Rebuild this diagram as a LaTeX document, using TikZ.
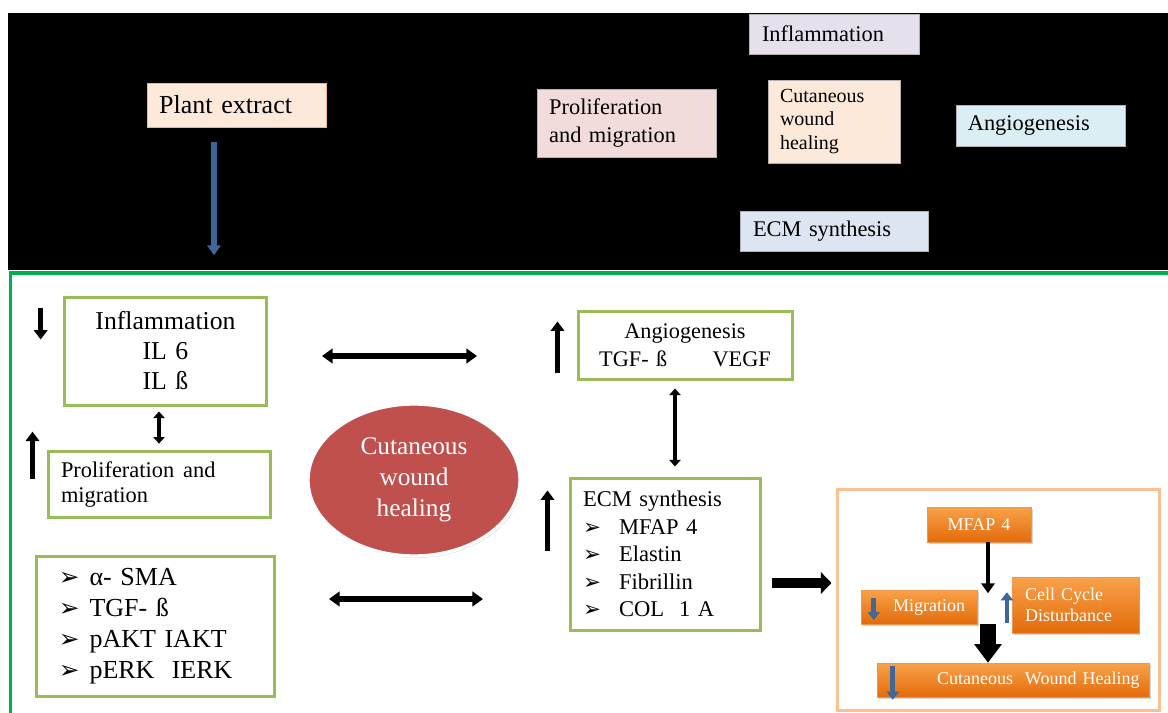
\documentclass[tikz,border=0pt]{standalone}
\usepackage{fontspec}
\setmainfont{Liberation Serif}
\newfontfamily\dingfont[Scale=0.95]{DejaVu Sans}
\usetikzlibrary{arrows.meta,calc,shapes.geometric,shadows}

\definecolor{peach}{HTML}{FDE9D9}
\definecolor{peachline}{HTML}{F4B183}
\definecolor{lavender}{HTML}{E6E0EC}
\definecolor{rose}{HTML}{F2DCDB}
\definecolor{skyblue}{HTML}{DBEEF4}
\definecolor{paleblue}{HTML}{DCE6F2}
\definecolor{leaf}{HTML}{9BBB59}
\definecolor{framegreen}{HTML}{00B050}
\definecolor{woundred}{HTML}{C0504D}
\definecolor{orangetop}{HTML}{F9A24A}
\definecolor{orangebottom}{HTML}{E26B0A}
\definecolor{orangeline}{HTML}{FAC090}
\definecolor{steel}{HTML}{3F6797}

\newcommand{\listarrow}[1]{\makebox[#1][l]{\dingfont ➢}}

\tikzset{
    top box/.style = {
        draw = gray!60,
        thin,
        inner ysep = 0pt,
        align = left,
        font = \fontsize{16.8}{20.4}\selectfont,
        },
    leaf box/.style = {
        draw = leaf,
        line width = 2.25pt,
        inner ysep = 0pt,
        },
    orange box/.style = {
        top color = orangetop,
        bottom color = orangebottom,
        draw = orangebottom!70,
        text = white,
        inner sep = 0pt,
        align = left,
        drop shadow = {opacity=0.35, shadow xshift=1.2pt, shadow yshift=-1.2pt},
        font = \fontsize{13.5}{16}\selectfont,
        },
    trend/.style = {
        line width = 3.5pt,
        -{Triangle[length=7pt,width=10pt]},
        },
    blue trend/.style = {
        draw = steel,
        line width = 3.5pt,
        -{Triangle[length=6pt,width=9pt]},
        },
    both way/.style = {
        line width = 4.5pt,
        {Triangle[length=8pt,width=11pt]}-{Triangle[length=8pt,width=11pt]},
        },
    both way small/.style = {
        line width = 3.5pt,
        {Triangle[length=5pt,width=8.5pt]}-{Triangle[length=5pt,width=8.5pt]},
        },
    fat arrow/.style = {
        line width = 7.5pt,
        -{Triangle[length=8pt,width=16pt]},
        },
    big arrow/.style = {
        line width = 12pt,
        -{Triangle[length=14pt,width=20pt]},
        },
    thin arrow/.style = {
        line width = 2.5pt,
        -{Triangle[length=7.5pt,width=10pt]},
        },
}

\begin{document}
\begin{tikzpicture}[x=0.75pt,y=-0.75pt]
    \useasboundingbox (0,0) rectangle (1168,713);

    % upper panel
    \fill[black] (8,13) rectangle (1168,270);
    \node[top box, fill=peach, draw=peachline, minimum height=33pt, text width=116pt, inner xsep=9pt,
          font=\fontsize{19.5}{23}\selectfont] (plant) at (236.5,105) {Plant extract};
    \node[top box, fill=lavender, minimum height=30pt, text width=108pt, inner xsep=9.75pt] (tinfl) at (834,34) {Inflammation};
    \node[top box, fill=rose, minimum height=51pt, text width=116pt, inner xsep=9pt] (tprolif) at (626.5,123) {Proliferation\\and migration};
    \node[top box, fill=peach, minimum height=62pt, text width=81pt, inner xsep=9pt,
          font=\fontsize{15}{17.6}\selectfont] (theal) at (834,121.5) {Cutaneous\\wound\\healing};
    \node[top box, fill=skyblue, minimum height=31pt, text width=109pt, inner xsep=9pt] (tangio) at (1040.5,125.5) {Angiogenesis};
    \node[top box, fill=paleblue, minimum height=30pt, text width=121.5pt, inner xsep=9.75pt] (tecm) at (834,231) {ECM synthesis};

    \coordinate (pex) at (214,0);
    \draw[blue trend, line width=4.5pt, -{Triangle[length=7.5pt,width=10pt]}]
        ($(plant.south -| pex)+(0,15)$) -- ($(plant.south -| pex)+(0,128)$);

    % lower panel
    \draw[framegreen, line width=2.25pt] (10,713) -- (10,273) -- (1168,273);

    \node[leaf box, minimum height=81pt, text width=152pt, inner xsep=0pt, align=center,
          font=\fontsize{19.3}{22.5}\selectfont] (infl) at (165.5,351) {Inflammation\\IL 6\\IL ß};
    \node[leaf box, minimum height=50pt, text width=147pt, inner xsep=9.75pt, align=left,
          font=\fontsize{16.8}{19}\selectfont] (prolif) at (159,484.5) {Proliferation\hspace{0.4em}and\\migration};
    \node[leaf box, minimum height=105pt, text width=145pt, inner xsep=16.5pt, align=left,
          font=\fontsize{19.5}{23.3}\selectfont] (markers) at (155.5,626)
          {\listarrow{23pt}α- SMA\\\listarrow{23pt}TGF- ß\\\listarrow{23pt}pAKT IAKT\\\listarrow{23pt}pERK\ \ IERK};

    \node[ellipse, fill=woundred, draw=white, line width=2.5pt, minimum width=159pt, minimum height=114pt,
          text=white, align=center, font=\fontsize{19}{23.25}\selectfont,
          drop shadow={opacity=0.25, shadow xshift=1pt, shadow yshift=-1.5pt}] (wound) at (414,480)
          {Cutaneous\\wound\\healing};

    \node[leaf box, minimum height=51pt, text width=160.5pt, inner xsep=0pt, align=center,
          font=\fontsize{16.7}{21}\selectfont] (angio) at (685,345) {Angiogenesis\\TGF- ß\hspace{34pt}VEGF};
    \node[leaf box, minimum height=114pt, text width=123pt, inner xsep=9.75pt, align=left,
          font=\fontsize{16.9}{20.6}\selectfont] (ecm) at (665,554)
          {ECM synthesis\\\listarrow{27pt}MFAP 4\\\listarrow{27pt}Elastin\\\listarrow{27pt}Fibrillin\\\listarrow{27pt}COL\ \ 1 A};

    \coordinate (ha) at (322,356);
    \coordinate (hb) at (477,356);
    \coordinate (la) at (329,599);
    \coordinate (lb) at (483,599);
    \coordinate (aecol) at (675,0);
    \coordinate (ecmrow) at (0,583);

    \draw[trend] ($(infl.north west)+(-22,12)$) -- ++(0,32);
    \draw[trend] ($(prolif.north west)+(-14,29)$) -- ++(0,-47);
    \draw[trend] ($(angio.north west)+(-19,63)$) -- ++(0,-51);
    \draw[trend] ($(ecm.north west)+(-21,74)$) -- ++(0,-60);

    \draw[both way small, shorten <=3.75pt, shorten >=4.5pt] (infl.south -| prolif.north) -- (prolif.north);
    \draw[both way] (ha) -- (hb);
    \draw[both way] (la) -- (lb);
    \draw[both way small, shorten <=6pt, shorten >=7.5pt] (angio.south -| aecol) -- (ecm.north -| aecol);

    % MFAP 4 panel
    \node[draw=orangeline, line width=2.25pt, minimum width=241.5pt, minimum height=165.75pt, inner sep=0pt] (panel) at (998,599.5) {};
    \draw[fat arrow, shorten <=7.5pt, shorten >=3pt] (ecm.east |- ecmrow) -- (panel.west |- ecmrow);

    \node[orange box, minimum height=26.25pt, text width=78pt, align=center] (mfap) at (979,524.5) {MFAP 4};
    \node[orange box, minimum height=25.5pt, text width=87pt] (migr) at (919,607) {\hspace*{24pt}Migration};
    \node[orange box, minimum height=42pt, text width=75.5pt, inner xsep=9.75pt] (cell) at (1075.5,605) {Cell Cycle\\Disturbance};
    \node[orange box, minimum height=25.5pt, text width=204pt] (cwh) at (1013,680) {\hspace*{45pt}Cutaneous\ \ Wound Healing};

    \coordinate (col) at (988,0);
    \draw[thin arrow] (mfap.south -| col) -- ++(0,51);
    \draw[big arrow] (migr.south -| col) -- (cwh.north -| col);

    \draw[blue trend] ($(migr.west)+(13,-9)$) -- ++(0,22);
    \draw[blue trend] ($(cell.south west)+(-5,-10)$) -- ++(0,-31);
    \draw[blue trend] ($(cwh.north west)+(16,3)$) -- ++(0,34);
\end{tikzpicture}
\end{document}
